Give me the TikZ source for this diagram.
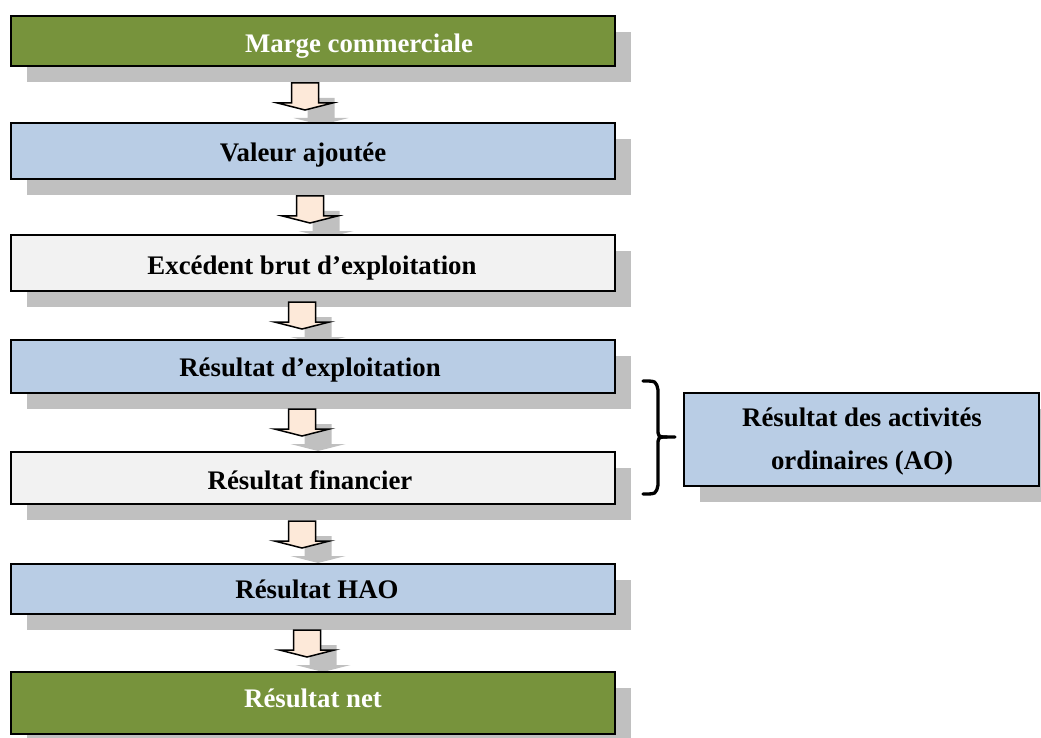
\documentclass[tikz,border=0pt]{standalone}
\usepackage{fontspec}
\setmainfont{Liberation Serif}
\definecolor{greenc}{HTML}{77933C}
\definecolor{bluec}{HTML}{B9CDE5}
\definecolor{greyc}{HTML}{F2F2F2}
\definecolor{shadowc}{HTML}{C0C0C0}
\definecolor{arrowc}{HTML}{FDE9D9}
\tikzset{
  boxbase/.style={rectangle, draw=black, line width=1.7pt, minimum width=604pt, inner sep=0pt,
    preaction={fill=shadowc, transform canvas={xshift=16pt, yshift=-16pt}}},
  greenbox/.style={boxbase, fill=greenc},
  bluebox/.style={boxbase, fill=bluec},
  greybox/.style={boxbase, fill=greyc},
  lbl/.style={inner sep=0pt, text height=18pt, text depth=0pt, font=\fontsize{26.8}{32}\selectfont\bfseries},
  arrowline/.style={draw=black, line width=1.5pt, fill=arrowc, line join=miter},
  bracketline/.style={draw=black, line width=3.3pt, line cap=round}
}
\newcommand\blockarrow[3]{%
  \coordinate (#1) at (#2,#3);
  \fill[shadowc] ([shift={(16,15)}]#1) ++(-13.5,0) -- ++(27,0) -- ++(0,20) -- ++(14,0) -- ++(-27.5,7) -- ++(-27.5,-7) -- ++(14,0) -- cycle;
  \path[arrowline] (#1) ++(-13.5,0) -- ++(27,0) -- ++(0,20) -- ++(14,0) -- ++(-27.5,7) -- ++(-27.5,-7) -- ++(14,0) -- cycle;
}
\begin{document}
\begin{tikzpicture}[x=1pt,y=-1pt]
\useasboundingbox (0,0) rectangle (1041,738);
\clip (0,0) rectangle (1041,738);

\node[greenbox, minimum height=50pt] (b1) at (313,41) {};
\blockarrow{a1}{305}{83}
\node[bluebox, minimum height=56pt] (b2) at (313,151) {};
\blockarrow{a2}{310}{196}
\node[greybox, minimum height=56pt] (b3) at (313,263) {};
\blockarrow{a3}{302}{302}
\node[bluebox, minimum height=53pt] (b4) at (313,366.5) {};
\blockarrow{a4}{302}{409}
\node[greybox, minimum height=52pt] (b5) at (313,478) {};
\blockarrow{a5}{302}{521}
\node[bluebox, minimum height=50pt] (b6) at (313,589) {};
\blockarrow{a6}{307}{630}
\node[greenbox, minimum height=62pt] (b7) at (313,703) {};

\node[rectangle, draw=black, line width=1.3pt, fill=bluec, minimum width=355pt, minimum height=93pt,
  preaction={fill=shadowc, transform canvas={xshift=16pt, yshift=-16pt}}] (ao) at (861.5,439.5) {};

\node[lbl, text=white] (t1) at (359,44) {Marge commerciale};
\node[lbl] (t2) at (303,153) {Valeur ajoutée};
\node[lbl] (t3) at (312,265) {Excédent brut d’exploitation};
\node[lbl] (t4) at (310,367) {Résultat d’exploitation};
\node[lbl] (t5) at (310,480) {Résultat financier};
\node[lbl] (t6) at (317,589) {Résultat HAO};
\node[lbl, text=white] (t7) at (313,698) {Résultat net};
\node[lbl] (t8) at (862,417) {Résultat des activités};
\node[lbl] (t9) at (862,460) {ordinaires (AO)};

\coordinate (br1) at (643,381);
\coordinate (br2) at (675,437);
\coordinate (br3) at (643,494);
\draw[bracketline] (br1) .. controls (656,381) .. (658,390) -- (658,428) .. controls (658,437) .. (667,437) -- (br2);
\draw[bracketline] (667,437) .. controls (658,437) .. (658,446) -- (658,485) .. controls (656,494) .. (br3);
\end{tikzpicture}
\end{document}
